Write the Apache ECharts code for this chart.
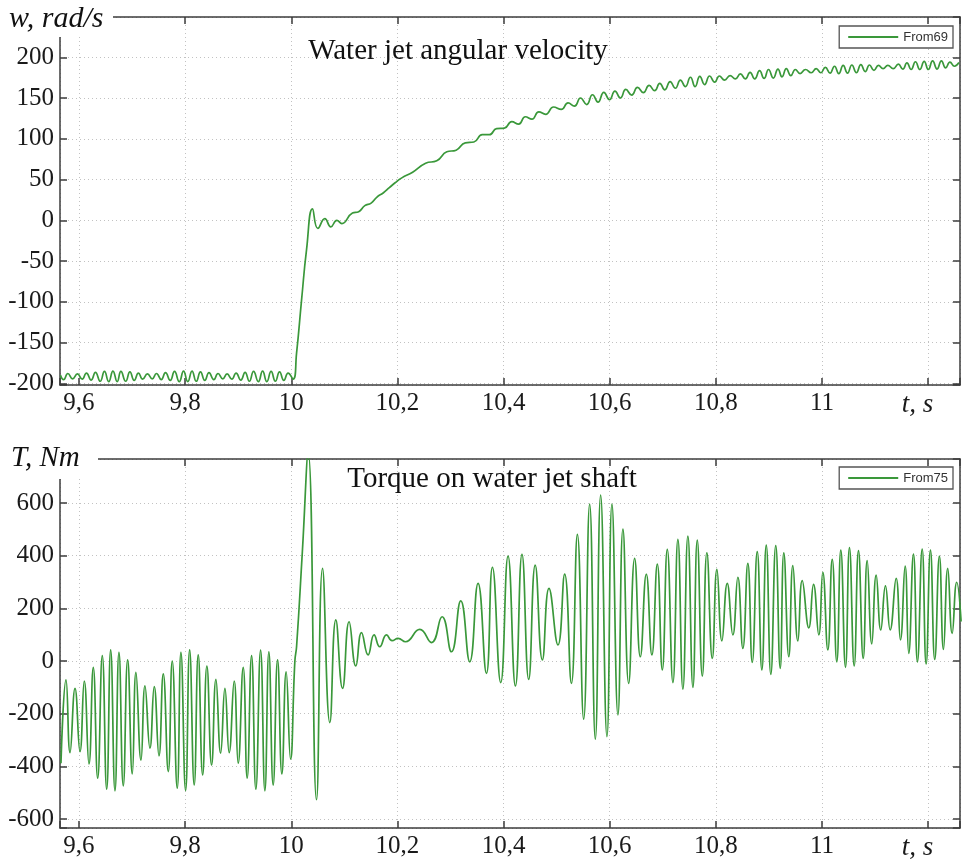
<!DOCTYPE html>
<html>
<head>
<meta charset="utf-8">
<script src="https://cdn.jsdelivr.net/npm/echarts@6.0.0/dist/echarts.min.js"></script>
<style>
  html, body { margin: 0; padding: 0; background: #ffffff; }
  #chart { width: 963px; height: 863px; }
</style>
</head>
<body>
<div id="chart"></div>
<script>
// ---------------- DATA ----------------
// Water jet angular velocity, rad/s  (series "From69")
const speedT = [
  9.565,
  9.571,9.579,9.588,9.597,9.606,9.614,9.623,9.631,9.640,9.648,
  9.656,9.664,9.672,9.679,9.688,9.696,9.704,9.712,9.720,9.729,
  9.738,9.746,9.755,9.763,9.772,9.780,9.789,9.797,9.805,9.813,
  9.821,9.829,9.837,9.845,9.854,9.862,9.871,9.879,9.888,9.896,
  9.905,9.913,9.921,9.929,9.938,9.946,9.954,9.962,9.970,9.978,
  9.986,9.994,
  10.0036,10.0100,10.0194,10.0288,10.0400,10.0501,10.0633,10.0746,10.0859,10.0953,
  10.1153,10.1270,10.1386,10.1505,10.1615,10.1732,10.1848,10.1957,10.2083,10.2287,
  10.2532,10.2742,10.2931,10.3107,10.3279,10.3442,10.3599,10.3735,10.3869,10.4016,
  10.4155,10.4286,10.4411,10.4536,10.4665,10.4795,10.4942,10.5089,10.5216,10.5336,
  10.5451,10.5567,10.5677,10.5780,10.5890,10.5996,10.6100,10.6203,10.6304,10.6415,
  10.6525,10.6635,10.6744,10.6847,10.6945,10.7039,10.7139,10.7239,10.7333,10.7427,
  10.7522,10.7610,10.7699,10.7789,10.7883,10.7978,10.8068,10.8166,10.8269,10.8369,
  10.8463,10.8557,10.8646,10.8734,10.8825,10.8910,10.8994,10.9084,10.9172,10.9248,
  10.9329,10.9414,10.9499,10.9588,10.9691,10.9798,10.9892,10.9979,11.0064,11.0153,
  11.0237,11.0318,11.0400,11.0482,11.0564,11.0649,11.0734,11.0816,11.0896,11.0981,
  11.1066,11.1153,11.1242,11.1343,11.1440,11.1524,11.1602,11.1681,11.1763,11.1845,
  11.1927,11.2005,11.2086,11.2170,11.2252,11.2331,11.2413,11.2497,11.2582
];
const speedV = [
  -190,
  -195.5,-188,-194.5,-188.5,-195,-187.5,-196,-186.5,-197.5,-185.5,
  -198,-185,-198,-185.5,-197.5,-186,-196.5,-187.5,-195,-188.5,
  -194.5,-188,-195.5,-187,-196.5,-185.5,-198,-185,-198,-185,
  -197.5,-186,-196.5,-187,-195.5,-188,-194.5,-188.5,-195,-187.5,
  -196,-186.5,-197.5,-185.5,-198,-185,-198,-185.5,-197.5,-186,
  -196.5,-187.5,
  -195,-163,-98,-36,14,-10,2,-8,0,-4,
  9,10.5,18,21,28.5,33.5,40,46,52,59,
  70,73,84,86,95,96,105,105,112.5,113,
  121,118,127,124,133,130,139,136,144,140,
  150,142,154,145,157,148,158.5,150,160.5,153.5,
  163,156.5,165.5,159,168,160,170,162,172,164,
  175.5,164,176.5,166.5,177,169.5,177,172,177.5,173.5,
  179.5,173.5,181.5,173.5,183.5,174,185,174.5,185.5,176,
  186,177.5,185,180,185,181,186,181,187.5,180.5,
  189,180,190,180.5,190.5,181,191,182.5,190.5,184,
  190,186,190,186,191.5,185.5,193,185,194.5,185,
  195,185,195.5,185.5,195.5,187,194,189,193.5
];

// Torque on water jet shaft, Nm  (series "From75")
const torqueT = [
  9.566,9.5755,9.5831,9.5925,9.6019,9.6100,9.6188,9.6269,9.6352,9.6439,
  9.6522,9.6597,9.6678,9.6753,9.6834,9.6917,9.7004,9.7073,9.7168,9.7243,
  9.7337,9.7418,9.7507,9.7588,9.7682,9.7757,9.7851,9.7921,9.8009,9.8085,
  9.8171,9.8247,9.8330,9.8410,9.8499,9.8580,9.8669,9.8750,9.8830,9.8925,
  9.9000,9.9094,9.9169,9.9252,9.9333,9.9422,9.9503,9.9578,9.9659,9.9742,
  9.9823,9.9904,9.9987,
  10.0068,10.0100,10.0209,10.0318,10.0476,10.0589,10.0727,10.0840,10.0966,
  10.1090,10.1216,10.1324,10.1448,10.1561,10.1668,10.1795,10.1900,10.2013,10.2152,
  10.2422,10.2642,10.2842,10.3019,10.3194,10.3363,10.3520,10.3678,10.3791,10.3947,
  10.4085,10.4224,10.4348,10.4474,10.4597,10.4732,10.4857,10.5026,10.5152,10.5279,
  10.5392,10.5510,10.5623,10.5730,10.5830,10.5949,10.6043,10.6156,10.6250,10.6358,
  10.6471,10.6578,10.6691,10.6796,10.6898,10.6992,10.7086,10.7192,10.7286,10.7380,
  10.7474,10.7569,10.7651,10.7746,10.7832,10.7934,10.8021,10.8115,10.8216,10.8322,
  10.8416,10.8510,10.8604,10.8687,10.8781,10.8868,10.8951,10.9037,10.9130,10.9214,
  10.9282,10.9376,10.9452,10.9546,10.9629,10.9753,10.9842,10.9941,11.0017,11.0111,
  11.0194,11.0280,11.0356,11.0444,11.0519,11.0608,11.0689,11.0778,11.0853,11.0939,
  11.1022,11.1109,11.1197,11.1286,11.1399,11.1480,11.1568,11.1636,11.1725,11.1800,
  11.1889,11.1964,11.2045,11.2126,11.2214,11.2290,11.2371,11.2454,11.2540,11.2623
];
const torqueV = [
  -388,-72,-348,-104,-344,-76,-391,-24,-445,20,
  -487,42,-493,33,-474,4,-429,-43,-376,-94,
  -331,-97,-360,-49,-420,0,-483,33,-492,42,
  -471,23,-433,-19,-395,-70,-350,-104,-348,-76,
  -388,-24,-445,20,-487,41,-493,35,-471,4,
  -429,-41,-373,
  0,54,415,790,-527,352,-234,156,-104,
  149,-19,108,23,99,54,99,77,86,73,
  120,70,168,35,228,-3,295,-47,356,-82,
  398,-95,405,-70,364,4,276,61,330,-85,
  481,-221,596,-297,630,-287,596,-205,501,-85,
  390,16,330,23,368,-34,424,-82,462,-107,
  474,-100,459,-57,411,10,348,76,295,99,
  318,48,371,-5,415,-34,440,-51,438,-28,
  411,16,362,76,305,126,291,99,337,42,
  386,-3,421,-24,431,-19,419,10,381,65,
  326,118,285,118,314,80,360,29,406,-3,
  425,-11,421,6,398,44,352,105,299,150
];

// Axis ranges and tick steps
const xRange = [9.5642, 11.2602];
const xStep = 0.2;
const speedRange = [-202.1, 249.4];
const speedStep = 50;
const speedMaxLabel = 200;
const torqueRange = [-634.2, 767];
const torqueStep = 200;
const torqueMaxLabel = 600;

// Texts
const titles = ['Water jet angular velocity', 'Torque on water jet shaft'];
const yNames = ['w, rad/s', 'T, Nm'];
const xName = 't, s';
const seriesNames = ['From69', 'From75'];

// ---------------- STYLE ----------------
const AX = '#3c3c3c';
const GRIDC = '#c2c2c2';
const GREEN = '#3a983a';
const SERIF = "'Liberation Serif', 'Times New Roman', serif";
const SANS = "'Liberation Sans', Arial, sans-serif";

function isMult(v, step) {
  const q = v / step;
  return Math.abs(q - Math.round(q)) < 1e-6;
}
function xLabel(v) {
  if (!isMult(v, xStep)) return '';
  const r = Math.round(v * 10) / 10;
  if (Math.abs(r - 11.2) < 1e-6) return '{u|' + xName + '}';
  return String(r).replace('.', ',');
}

function xAxisDef(grid, pos, withLabels) {
  return {
    type: 'value', gridIndex: grid, position: pos,
    min: xRange[0], max: xRange[1], splitNumber: 8,
    minInterval: xStep, maxInterval: xStep,
    axisLine: { show: true, onZero: false, lineStyle: { color: AX, width: 1.5 } },
    axisTick: { show: true, inside: true, length: 7, lineStyle: { color: AX, width: 1.5 } },
    axisLabel: withLabels ? {
      show: true, margin: 6, formatter: xLabel,
      fontFamily: SERIF, fontSize: 25, color: '#1a1a1a',
      rich: { u: { fontFamily: SERIF, fontStyle: 'italic', fontSize: 27, color: '#1a1a1a', padding: [0, 21, 0, 0] } }
    } : { show: false },
    splitLine: withLabels ? { show: true, lineStyle: { type: [1, 3], color: GRIDC, width: 1 } } : { show: false }
  };
}
function yAxisDef(grid, pos, range, step, maxLab, withLabels) {
  return {
    type: 'value', gridIndex: grid, position: pos,
    min: range[0], max: range[1], splitNumber: Math.round((range[1] - range[0]) / step),
    minInterval: step, maxInterval: step,
    axisLine: { show: true, onZero: false, lineStyle: { color: AX, width: 1.5 } },
    axisTick: { show: true, inside: true, length: 7, lineStyle: { color: AX, width: 1.5 } },
    axisLabel: withLabels ? {
      show: true, margin: 6,
      formatter: v => (isMult(v, step) && v <= maxLab + 1e-6) ? String(Math.round(v)) : '',
      fontFamily: SERIF, fontSize: 25, color: '#1a1a1a'
    } : { show: false },
    splitLine: withLabels ? { show: true, lineStyle: { type: [1, 3], color: GRIDC, width: 1 } } : { show: false }
  };
}

function legendDef(name, top) {
  return {
    data: [{ name: name, icon: 'rect', itemStyle: { color: GREEN } }],
    right: 10, top: top, orient: 'horizontal',
    itemWidth: 50, itemHeight: 2, itemGap: 5,
    padding: [4, 5, 4, 9],
    borderColor: '#555', borderWidth: 1.3, backgroundColor: '#ffffff',
    textStyle: { fontFamily: SANS, fontSize: 13, color: '#333', lineHeight: 14 }
  };
}

const chart = echarts.init(document.getElementById('chart'), null, { renderer: 'canvas' });
chart.setOption({
  backgroundColor: '#ffffff',
  animation: false,
  grid: [
    { left: 60, top: 17, width: 901, height: 368, containLabel: false },
    { left: 60, top: 459, width: 901, height: 369, containLabel: false }
  ],
  xAxis: [
    xAxisDef(0, 'bottom', true),
    xAxisDef(0, 'top', false),
    xAxisDef(1, 'bottom', true),
    xAxisDef(1, 'top', false)
  ],
  yAxis: [
    yAxisDef(0, 'left', speedRange, speedStep, speedMaxLabel, true),
    yAxisDef(0, 'right', speedRange, speedStep, speedMaxLabel, false),
    yAxisDef(1, 'left', torqueRange, torqueStep, torqueMaxLabel, true),
    yAxisDef(1, 'right', torqueRange, torqueStep, torqueMaxLabel, false)
  ],
  legend: [legendDef(seriesNames[0], 26), legendDef(seriesNames[1], 467)],
  series: [
    {
      name: seriesNames[0], type: 'line', xAxisIndex: 0, yAxisIndex: 0,
      data: speedT.map((t, i) => [t, speedV[i]]),
      symbol: 'none', showSymbol: false, smooth: 0.5, clip: true,
      lineStyle: { color: GREEN, width: 1.7 }, itemStyle: { color: GREEN }
    },
    {
      name: seriesNames[1], type: 'line', xAxisIndex: 2, yAxisIndex: 2,
      data: torqueT.map((t, i) => [t, torqueV[i]]),
      symbol: 'none', showSymbol: false, smooth: 0.5, clip: true,
      lineStyle: { color: GREEN, width: 1.7 }, itemStyle: { color: GREEN }
    }
  ],
  graphic: [
    { type: 'rect', z: 100, shape: { x: 0, y: 0, width: 113, height: 37 }, style: { fill: '#ffffff' } },
    { type: 'rect', z: 100, shape: { x: 0, y: 438, width: 98, height: 41 }, style: { fill: '#ffffff' } },
    { type: 'text', z: 101, x: 9, y: 19,
      style: { text: yNames[0], font: "italic 30px " + SERIF, fill: '#111', align: 'left', verticalAlign: 'middle', textAlign: 'left', textVerticalAlign: 'middle' } },
    { type: 'text', z: 101, x: 11, y: 458,
      style: { text: yNames[1], font: "italic 29px " + SERIF, fill: '#111', align: 'left', verticalAlign: 'middle', textAlign: 'left', textVerticalAlign: 'middle' } },
    { type: 'text', z: 101, x: 458, y: 51,
      style: { text: titles[0], font: "29px " + SERIF, fill: '#111', align: 'center', verticalAlign: 'middle', textAlign: 'center', textVerticalAlign: 'middle' } },
    { type: 'text', z: 101, x: 492, y: 479,
      style: { text: titles[1], font: "29px " + SERIF, fill: '#111', align: 'center', verticalAlign: 'middle', textAlign: 'center', textVerticalAlign: 'middle' } }
  ]
});
</script>
</body>
</html>
